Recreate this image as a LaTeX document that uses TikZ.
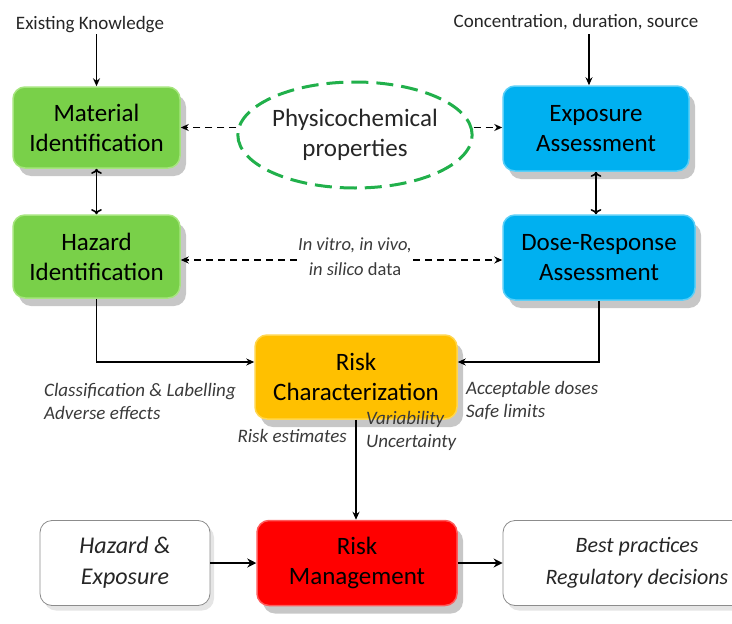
\documentclass[tikz,border=0pt]{standalone}
\usepackage{fontspec}
\setmainfont{Carlito}
\usetikzlibrary{shapes.geometric,shadows,arrows.meta}
\definecolor{cgreen}{HTML}{79D049}
\definecolor{cgreenrim}{HTML}{A6E57E}
\definecolor{cblue}{HTML}{00B0F0}
\definecolor{cbluerim}{HTML}{5CCFF7}
\definecolor{cyellow}{HTML}{FFC000}
\definecolor{cyellowrim}{HTML}{FFD64F}
\definecolor{cred}{HTML}{FF0000}
\definecolor{credrim}{HTML}{FF5A5A}
\definecolor{cdash}{HTML}{21B04B}
\definecolor{labgray}{HTML}{3A3A3A}
\tikzset{
  x=1pt,y=-1pt,
  box/.style={rounded corners=12pt, align=center, inner sep=2pt,
    font=\fontsize{25}{30}\selectfont, text=black, line width=1.5pt,
    drop shadow={shadow xshift=6pt, shadow yshift=-8pt, opacity=0.22, fill=black}},
  gbox/.style={box, fill=cgreen, draw=cgreenrim},
  bbox/.style={box, fill=cblue, draw=cbluerim},
  ybox/.style={box, fill=cyellow, draw=cyellowrim},
  rbox/.style={box, fill=cred, draw=credrim},
  wbox/.style={rounded corners=12pt, align=center, fill=white, draw=black!45, line width=0.8pt,
    font=\fontsize{24}{31}\selectfont\itshape, text=black!85,
    drop shadow={shadow xshift=4pt, shadow yshift=-5pt, opacity=0.10, fill=black}},
  lab/.style={font=\fontsize{19}{23}\selectfont, text=labgray, inner sep=1pt},
  ilab/.style={lab, font=\fontsize{19}{23}\selectfont\itshape},
  arr/.style={line width=1.6pt, -{Stealth[length=8pt,width=7pt]}},
  darr/.style={arr, <->},
  dsh/.style={line width=1.3pt, dash pattern=on 7pt off 5pt, -{Stealth[length=8pt,width=7pt]}},
  barr/.style={line width=2.8pt, -{Stealth[length=9pt,width=9pt]}}
}
\begin{document}
\begin{tikzpicture}
\useasboundingbox (0,0) rectangle (732,624);
% boxes
\node[gbox, minimum width=167pt, minimum height=81pt] (mat) at (96.5,127.5) {Material\\Identification};
\node[gbox, minimum width=167pt, minimum height=83pt] (haz) at (96.5,256.5) {Hazard\\Identification};
\node[bbox, minimum width=186pt, minimum height=85pt] (exp) at (596,128.5) {Exposure\\Assessment};
\node[bbox, minimum width=192pt, minimum height=85pt] (dose) at (599,257.5) {Dose-Response\\Assessment};
\node[ybox, minimum width=202pt, minimum height=84pt] (rc) at (356,377) {Risk\\Characterization};
\node[rbox, minimum width=200pt, minimum height=85pt] (rm) at (357,563) {Risk\\Management};
\node[wbox, minimum width=170pt, minimum height=85pt] (he) at (125,563) {Hazard \&\\Exposure};
\node[wbox, minimum width=268pt, minimum height=85pt, font=\fontsize{22}{32}\selectfont\itshape] (bp) at (637,563) {Best practices\\Regulatory decisions};
% ellipse
\node[ellipse, draw=cdash, line width=3pt, dash pattern=on 17pt off 8pt, minimum width=208pt, minimum height=106pt,
  inner sep=0pt, align=center, font=\fontsize{25}{30}\selectfont, text=black!85] (ell) at (355,135) {Physicochemical\\properties};
% top texts
\node[lab, text=black!85] (ek) at (90,25) {Existing Knowledge};
\node[lab, text=black!85] (cds) at (576,22) {Concentration, duration, source};
\coordinate (c1) at (589,34);
\draw[arr] (mat.north |- ek.south) -- (mat.north);
\draw[arr] (c1) -- (c1 |- exp.north);
% vertical double arrows
\draw[darr] (mat.south) -- (haz.north);
\draw[darr] (exp.south) -- (exp.south |- dose.north);
% dashed arrows from ellipse
\draw[dsh] (mat.east -| ell.west) -- (mat.east);
\draw[dsh] (mat.east -| ell.east) -- (mat.east -| exp.west);
% in vitro text
\node[lab, align=center, font=\fontsize{18.5}{25}\selectfont] (iv) at (355,257) {\textit{In vitro, in vivo,}\\\textit{in silico} data};
\draw[dsh] ([yshift=-3pt]iv.west) -- ([yshift=-3pt]iv.west -| haz.east);
\draw[dsh] ([yshift=-3pt]iv.east) -- ([yshift=-3pt]iv.east -| dose.west);
% to risk characterization
\draw[arr] (haz.south) |- ([yshift=15pt]rc.west);
\draw[arr] (dose.south) |- ([yshift=15pt]rc.east);
\node[ilab, align=left, anchor=west] (cl) at (43,401) {Classification \& Labelling\\Adverse effects};
\node[ilab, align=left, anchor=west] (ad) at (465,401) {Acceptable doses\\Safe limits};
% down to risk management
\draw[arr] (rc.south) -- (rc.south |- rm.north);
\node[ilab, anchor=east] (re) at (348,436) {Risk estimates};
\node[ilab, align=left, anchor=west] (vu) at (365,431) {Variability\\Uncertainty};
% bottom arrows
\draw[barr] (he.east) -- (rm.west);
\draw[barr] (rm.east) -- (bp.west);
\end{tikzpicture}
\end{document}
